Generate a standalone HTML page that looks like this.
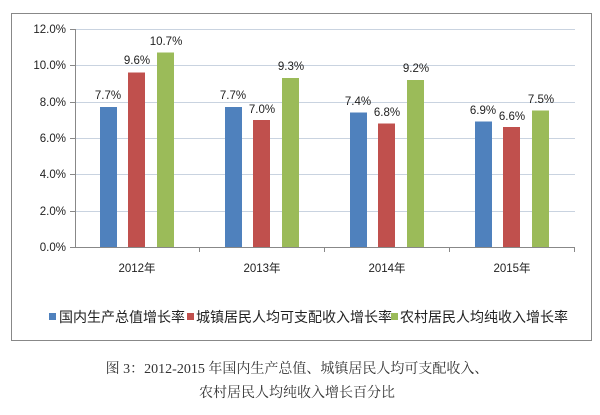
<!DOCTYPE html><html><head><meta charset="utf-8"><style>body{margin:0;background:#fff}</style></head><body>
<svg width="600" height="410" xmlns="http://www.w3.org/2000/svg" font-family="Liberation Sans, Noto Sans CJK SC, sans-serif">
<rect x="11.5" y="13.5" width="580" height="327" fill="#fff" stroke="#888" stroke-width="1"/>
<g stroke="#c9d3e0" stroke-width="1">
<line x1="75" x2="575" y1="29.5" y2="29.5"/><line x1="75" x2="575" y1="65.5" y2="65.5"/><line x1="75" x2="575" y1="102.5" y2="102.5"/><line x1="75" x2="575" y1="138.5" y2="138.5"/><line x1="75" x2="575" y1="174.5" y2="174.5"/><line x1="75" x2="575" y1="211.5" y2="211.5"/>
</g>
<g stroke="#888" stroke-width="1">
<line x1="75.5" x2="75.5" y1="29" y2="247"/><line x1="70" x2="575" y1="247.5" y2="247.5"/>
<line x1="70" x2="75" y1="29.5" y2="29.5"/><line x1="70" x2="75" y1="65.5" y2="65.5"/><line x1="70" x2="75" y1="102.5" y2="102.5"/><line x1="70" x2="75" y1="138.5" y2="138.5"/><line x1="70" x2="75" y1="174.5" y2="174.5"/><line x1="70" x2="75" y1="211.5" y2="211.5"/>
<line x1="199.5" x2="199.5" y1="247" y2="252"/><line x1="324.5" x2="324.5" y1="247" y2="252"/><line x1="449.5" x2="449.5" y1="247" y2="252"/><line x1="574.5" x2="574.5" y1="247" y2="252"/>
</g>
<g font-size="11.5" fill="#222" text-anchor="end">
<text x="66" y="33">12.0%</text><text x="66" y="69">10.0%</text><text x="66" y="106">8.0%</text><text x="66" y="142">6.0%</text><text x="66" y="178">4.0%</text><text x="66" y="215">2.0%</text><text x="66" y="251">0.0%</text>
</g>
<g font-size="11.5" fill="#222" text-anchor="middle">
<text x="137" y="272">2012年</text><text x="262" y="272">2013年</text><text x="387" y="272">2014年</text><text x="512" y="272">2015年</text>
</g>
<g>
<rect x="100" y="107" width="17" height="140" fill="#4f81bd"/><rect x="128" y="72.5" width="17" height="174.5" fill="#c0504d"/><rect x="157" y="52.5" width="17" height="194.5" fill="#9bbb59"/>
<rect x="225" y="107" width="17" height="140" fill="#4f81bd"/><rect x="253" y="120" width="17" height="127" fill="#c0504d"/><rect x="282" y="78" width="17" height="169" fill="#9bbb59"/>
<rect x="350" y="112.5" width="17" height="134.5" fill="#4f81bd"/><rect x="378" y="123.5" width="17" height="123.5" fill="#c0504d"/><rect x="407" y="80" width="17" height="167" fill="#9bbb59"/>
<rect x="475" y="121.5" width="17" height="125.5" fill="#4f81bd"/><rect x="503" y="127" width="17" height="120" fill="#c0504d"/><rect x="532" y="110.5" width="17" height="136.5" fill="#9bbb59"/>
</g>
<g font-size="11.5" fill="#222" text-anchor="middle">
<text x="108" y="99">7.7%</text><text x="137" y="64">9.6%</text><text x="166" y="45">10.7%</text>
<text x="233" y="99">7.7%</text><text x="262" y="113">7.0%</text><text x="291" y="70">9.3%</text>
<text x="358" y="105">7.4%</text><text x="387" y="116">6.8%</text><text x="416" y="72">9.2%</text>
<text x="483" y="114">6.9%</text><text x="512" y="120">6.6%</text><text x="541" y="103">7.5%</text>
</g>
<g font-size="14" fill="#222">
<rect x="49" y="313" width="7" height="7" fill="#4f81bd"/><text x="59" y="322">国内生产总值增长率</text>
<rect x="187" y="313" width="7" height="7" fill="#c0504d"/><text x="196" y="322">城镇居民人均可支配收入增长率</text>
<rect x="391" y="313" width="7" height="7" fill="#9bbb59"/><text x="400" y="322">农村居民人均纯收入增长率</text>
</g>
<g font-size="14" fill="#333" text-anchor="middle" font-family="Liberation Serif, Noto Serif CJK SC, serif">
<text x="297" y="373">图 3：2012-2015 年国内生产总值、城镇居民人均可支配收入、</text>
<text x="297" y="397">农村居民人均纯收入增长百分比</text>
</g>
</svg>
</body></html>
